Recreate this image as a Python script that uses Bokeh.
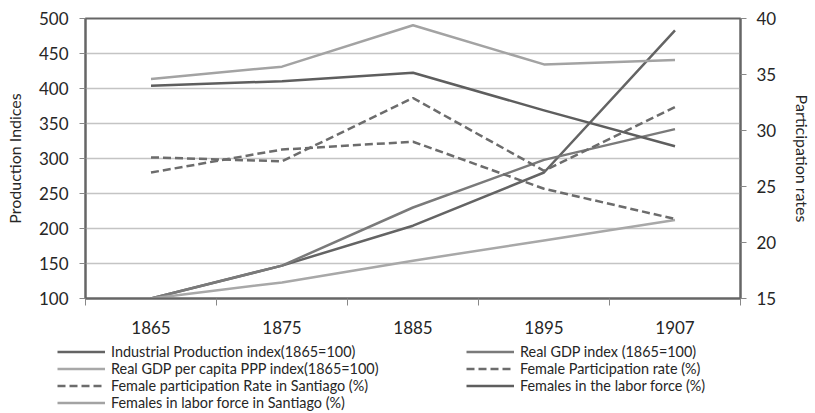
from bokeh.plotting import figure
from bokeh.models import Range1d, LinearAxis, FixedTicker, Legend, LegendItem
from bokeh.embed import file_html
from bokeh.resources import INLINE

# ---- data ----
years = ["1865", "1875", "1885", "1895", "1907"]
industrial = [100, 147, 204, 280, 483]
real_gdp = [100, 147, 230, 298, 342]
gdp_pc = [100, 123, 154, 183, 212]
fem_part = [26.25, 28.3, 29.0, 24.8, 22.1]
fem_part_santiago = [27.6, 27.25, 32.9, 26.4, 32.1]
fem_labor = [34.0, 34.4, 35.15, 31.8, 28.6]
fem_labor_santiago = [34.6, 35.7, 39.4, 35.9, 36.3]
left_ticks = [100, 150, 200, 250, 300, 350, 400, 450, 500]
right_ticks = [15, 20, 25, 30, 35, 40]

FONT = "Lato"
TXT = "#262626"
AXIS = "#666666"
TICK = "#888888"

xs = [i + 0.5 for i in range(len(years))]

p = figure(width=815, height=336, output_backend="svg", toolbar_location=None,
           x_range=Range1d(0, len(years)), y_range=Range1d(left_ticks[0], left_ticks[-1]),
           min_border_left=85, min_border_right=70, min_border_top=18, min_border_bottom=38)
p.extra_y_ranges = {"rates": Range1d(right_ticks[0], right_ticks[-1])}

p.outline_line_color = AXIS
p.outline_line_width = 2
p.background_fill_color = "white"
p.border_fill_color = "white"
p.xgrid.grid_line_color = None
p.ygrid.grid_line_color = "#c4c4c4"
p.ygrid.grid_line_width = 1.5

# bottom axis: labels at category centres, tick marks between categories
xa = p.xaxis[0]
xa.ticker = FixedTicker(ticks=xs, minor_ticks=list(range(len(years) + 1)))
xa.major_label_overrides = {x: y for x, y in zip(xs, years)}
xa.major_tick_out = 0
xa.major_tick_in = 0
xa.minor_tick_out = 7
xa.minor_tick_in = 0
xa.minor_tick_line_color = TICK
xa.axis_line_color = AXIS
xa.axis_line_width = 2
xa.major_label_standoff = 15
xa.major_label_text_font = FONT
xa.major_label_text_font_size = "17px"
xa.major_label_text_color = TXT

# left axis
ya = p.yaxis[0]
ya.ticker = FixedTicker(ticks=left_ticks)
ya.axis_label = "Production Indices"
ya.axis_label_text_font = FONT
ya.axis_label_text_font_size = "16px"
ya.axis_label_text_font_style = "normal"
ya.axis_label_text_color = TXT
ya.axis_label_standoff = 12
ya.major_tick_out = 6
ya.major_tick_in = 0
ya.minor_tick_line_color = None
ya.major_tick_line_color = TICK
ya.axis_line_color = AXIS
ya.axis_line_width = 2
ya.major_label_standoff = 11
ya.major_label_text_font = FONT
ya.major_label_text_font_size = "17px"
ya.major_label_text_color = TXT

# right axis
ra = LinearAxis(y_range_name="rates", ticker=FixedTicker(ticks=right_ticks),
                axis_label="Participation rates")
ra.axis_label_text_font = FONT
ra.axis_label_text_font_size = "16px"
ra.axis_label_text_font_style = "normal"
ra.axis_label_text_color = TXT
ra.axis_label_standoff = 14
ra.major_tick_out = 6
ra.major_tick_in = 0
ra.minor_tick_line_color = None
ra.major_tick_line_color = TICK
ra.axis_line_color = AXIS
ra.axis_line_width = 2
ra.major_label_standoff = 10
ra.major_label_text_font = FONT
ra.major_label_text_font_size = "17px"
ra.major_label_text_color = TXT
p.add_layout(ra, "right")

W = 2.5
styles = dict(
    ind=dict(line_color="#646464", line_width=W, line_join="round"),
    gdp=dict(line_color="#7a7a7a", line_width=W, line_join="round"),
    pc=dict(line_color="#a8a8a8", line_width=W, line_join="round"),
    fp=dict(line_color="#6c6c6c", line_width=W, line_dash="8 4"),
    fps=dict(line_color="#6c6c6c", line_width=W, line_dash="8 4"),
    fl=dict(line_color="#5e5e5e", line_width=W, line_join="round"),
    fls=dict(line_color="#a3a3a3", line_width=W, line_join="round"),
)
series = dict(ind=industrial, gdp=real_gdp, pc=gdp_pc, fp=fem_part,
              fps=fem_part_santiago, fl=fem_labor, fls=fem_labor_santiago)
right_side = {"fp", "fps", "fl", "fls"}

for k, vals in series.items():
    if k in right_side:
        p.line(xs, vals, y_range_name="rates", **styles[k])
    else:
        p.line(xs, vals, **styles[k])

# ---- legend panel below the chart (separate root, no frame alignment) ----
q = figure(width=815, height=77, output_backend="svg", toolbar_location=None,
           x_range=Range1d(0, 1), y_range=Range1d(0, 1),
           x_axis_type=None, y_axis_type=None,
           min_border_left=0, min_border_right=0, min_border_top=0, min_border_bottom=0)
q.grid.visible = False
q.outline_line_color = None
q.background_fill_color = "white"
q.border_fill_color = "white"

# legend proxies (same series, not drawn in this panel)
lr = {k: q.line(xs, series[k], visible=False, **styles[k]) for k in series}


def make_legend(items, loc):
    lg = Legend(items=items, location=loc)
    lg.border_line_color = None
    lg.background_fill_alpha = 0
    lg.padding = 0
    lg.margin = 0
    lg.spacing = 0
    lg.glyph_width = 48
    lg.glyph_height = 17
    lg.label_height = 17
    lg.label_standoff = 6
    lg.label_text_font = FONT
    lg.label_text_font_size = "14.4px"
    lg.label_text_color = TXT
    return lg


leg1 = make_legend([
    LegendItem(label="Industrial Production index(1865=100)", renderers=[lr["ind"]]),
    LegendItem(label="Real GDP per capita PPP index(1865=100)", renderers=[lr["pc"]]),
    LegendItem(label="Female participation Rate in Santiago (%)", renderers=[lr["fps"]]),
    LegendItem(label="Females in labor force in Santiago (%)", renderers=[lr["fls"]]),
], (57, 2))
leg2 = make_legend([
    LegendItem(label="Real GDP index (1865=100)", renderers=[lr["gdp"]]),
    LegendItem(label="Female Participation rate (%)", renderers=[lr["fp"]]),
    LegendItem(label="Females in the labor force (%)", renderers=[lr["fl"]]),
], (466, 19))
q.add_layout(leg1)
q.add_layout(leg2)

open("out.html", "w").write(file_html([p, q], INLINE))
